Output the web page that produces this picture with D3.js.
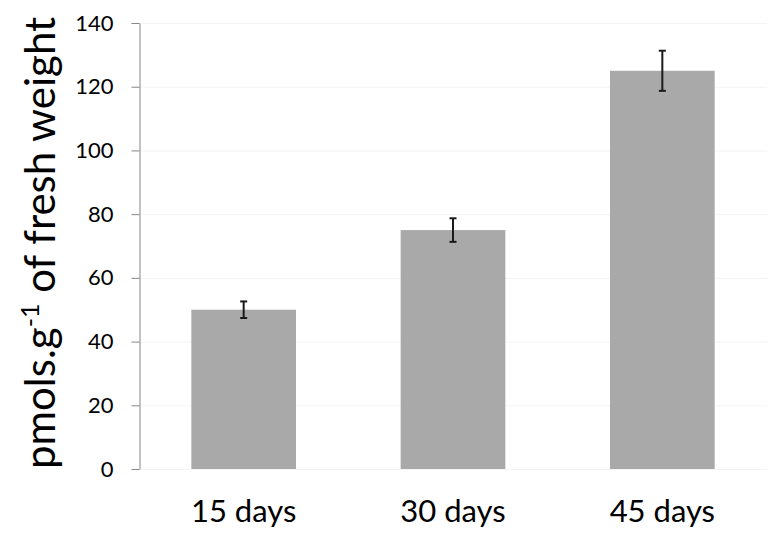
<!DOCTYPE html>
<html><head><meta charset="utf-8">
<script src="https://cdn.jsdelivr.net/npm/d3@7"></script>
<style>body{margin:0;background:#fff;} text{font-family:Lato, "Open Sans", sans-serif;}</style>
</head><body>
<svg id="c" width="783" height="552"></svg>
<script>
const categories = ["15 days", "30 days", "45 days"];
const values = [50, 75, 125];
const errors = [2.6, 3.7, 6.3];
const yTicks = [0, 20, 40, 60, 80, 100, 120, 140];

const svg = d3.select("#c");
const m = {left: 139, right: 767, top: 23, bottom: 469};
const x = d3.scaleBand().domain(categories).range([m.left, m.right]).paddingInner(0.5).paddingOuter(0.25);
const y = d3.scaleLinear().domain([0, 140]).range([m.bottom, m.top]);

// faint gridlines
svg.append("g").selectAll("line").data(yTicks).join("line")
  .attr("x1", m.left).attr("x2", m.right)
  .attr("y1", d => y(d) + 0.5).attr("y2", d => y(d) + 0.5)
  .attr("stroke", "#f4f4f4").attr("stroke-width", 1);

// bars
svg.append("g").selectAll("rect").data(values).join("rect")
  .attr("x", (d, i) => x(categories[i]))
  .attr("y", d => y(d))
  .attr("width", x.bandwidth())
  .attr("height", d => y(0) - y(d))
  .attr("fill", "#a9a9a9");

// error bars
const eg = svg.append("g").attr("stroke", "#1a1a1a").attr("stroke-width", 2);
values.forEach((v, i) => {
  const cx = x(categories[i]) + x.bandwidth() / 2;
  eg.append("line").attr("x1", cx).attr("x2", cx).attr("y1", y(v + errors[i])).attr("y2", y(v - errors[i]));
  eg.append("line").attr("x1", cx - 3.5).attr("x2", cx + 3.5).attr("y1", y(v + errors[i])).attr("y2", y(v + errors[i]));
  eg.append("line").attr("x1", cx - 3.5).attr("x2", cx + 3.5).attr("y1", y(v - errors[i])).attr("y2", y(v - errors[i]));
});

// y axis
const ya = svg.append("g").attr("transform", `translate(${m.left + 0.5},0)`)
  .call(d3.axisLeft(y).tickValues(yTicks).tickSize(8).tickPadding(18).tickSizeOuter(0));
ya.select(".domain").attr("stroke", "#868686");
ya.selectAll(".tick line").attr("stroke", "#868686");
ya.selectAll(".tick text").attr("font-size", 22).attr("fill", "#000").attr("font-family", "Lato");

// x labels
const xa = svg.append("g").attr("transform", `translate(0,${m.bottom})`)
  .call(d3.axisBottom(x).tickSize(0).tickPadding(31));
xa.select(".domain").remove();
xa.selectAll(".tick text").attr("font-size", 31).attr("fill", "#000").attr("font-family", "Lato");

// y title
const t = svg.append("text")
  .attr("transform", "translate(55,243) rotate(-90)")
  .attr("text-anchor", "middle").attr("font-size", 42).attr("fill", "#000");
t.append("tspan").text("pmols.g");
t.append("tspan").attr("dy", -16).attr("font-size", 25).text("-1");
t.append("tspan").attr("dy", 16).text(" of fresh weight");
</script>
</body></html>
